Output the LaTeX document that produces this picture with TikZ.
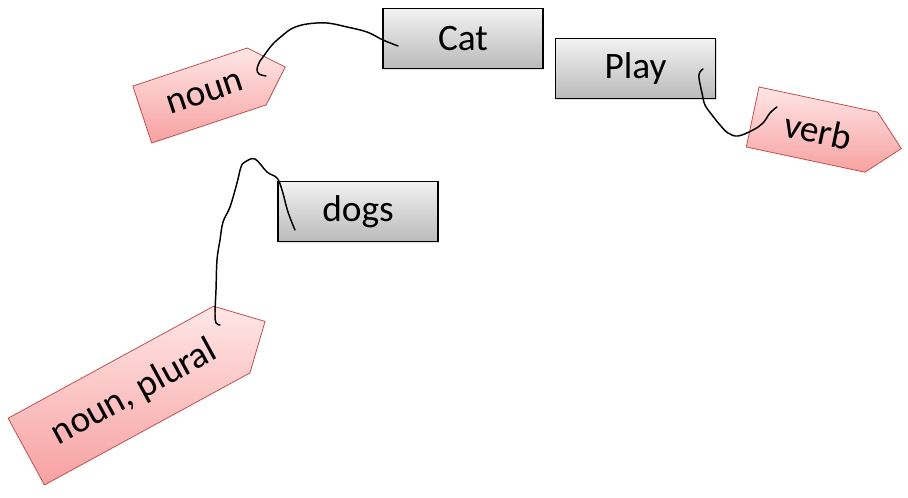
\documentclass[tikz,border=0pt]{standalone}
\usepackage{fontspec}
\setmainfont{Carlito}
\usepackage{tikz}
\usetikzlibrary{shapes.symbols,shadows}

\definecolor{tagline}{HTML}{C0504D}
\definecolor{tagtop}{HTML}{FFE6E6}
\definecolor{tagbottom}{HTML}{F7A1A1}
\definecolor{wordtop}{HTML}{F2F2F2}
\definecolor{wordbottom}{HTML}{BABABA}

\begin{document}
\begin{tikzpicture}[
    x=0.75pt, y=-0.75pt,
    word/.style={rectangle, draw=black, line width=1.1pt, top color=wordtop, bottom color=wordbottom, minimum width=120pt, minimum height=45pt, inner sep=0pt, font=\fontsize{28}{30}\selectfont, drop shadow={opacity=0.25, shadow xshift=1pt, shadow yshift=-1pt}},
    tag/.style={signal, signal to=east, draw=tagline, line width=0.6pt, top color=tagtop, bottom color=tagbottom, inner sep=0pt, font=\fontsize{28}{30}\selectfont, execute at begin node=\hspace*{9pt}},
    cord/.style={line width=1.1pt, line cap=round, line join=round}
]
\useasboundingbox (0,0) rectangle (908,498);

% words
\node[word] (cat) at (463,38.5) {Cat};
\node[word] (play) at (635.5,68.5) {Play};
\node[word] (dogs) at (358,211.5) {dogs};

% tags
\node[tag, minimum width=113pt, minimum height=45pt, rotate=18.4] (noun) at (199.5,95.5) {noun};
\node[tag, minimum width=114pt, minimum height=46pt, rotate=-12] (verb) at (812,129.6) {verb};
\node[tag, minimum width=204pt, minimum height=57pt, rotate=28.6] (plural) at (129,395.6) {noun, plural};

% pins
\coordinate (catpin) at (398,46);
\coordinate (nounpin) at (266,76);
\coordinate (playpin) at (703,69);
\coordinate (verbpin) at (777,107);
\coordinate (dogspin) at (295,230);
\coordinate (pluralpin) at (220,325);

% strings
\draw[cord] plot[smooth, tension=0.6] coordinates {(nounpin) (259,74) (257,69) (260,61) (263,57) (272,45) (283,35) (293,28) (307,24) (327,23) (347,27) (367,32) (383,40) (catpin)};
\draw[cord] plot[smooth, tension=0.6] coordinates {(playpin) (700,72) (699,78) (702,93) (705,105) (712,115) (720,125) (728,133) (738,136) (753,130) (763,123) (770,113) (verbpin)};
\draw[cord] plot[smooth, tension=0.6] coordinates {(pluralpin) (216,323) (215,313) (216,290) (217,260) (220,240) (223,222) (230,207) (237,183) (241,167) (245,162) (255,159) (267,172) (277,178) (282,190) (288,212) (dogspin)};
\end{tikzpicture}
\end{document}
